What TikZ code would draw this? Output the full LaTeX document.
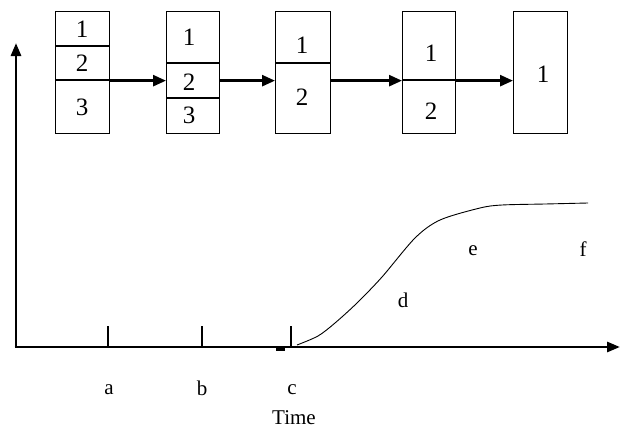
\documentclass[tikz,border=0pt]{standalone}
\usepackage{fontspec}
\setmainfont{Liberation Serif}
\usetikzlibrary{arrows.meta}
\begin{document}
\begin{tikzpicture}[x=1pt,y=-1pt,
  boxst/.style={draw,line width=1.3pt,rectangle,inner sep=0pt,anchor=north west},
  divst/.style={line width=1.3pt},
  digit/.style={font=\fontsize{25}{25}\selectfont,inner sep=0pt},
  lbl/.style={font=\fontsize{21}{21}\selectfont,inner sep=0pt},
  flow/.style={line width=2.6pt,-{Triangle[length=13pt,width=11pt]}},
  axis/.style={line width=2.8pt,-{Triangle[length=13pt,width=10pt]}},
  tick/.style={line width=1.2pt}]
\useasboundingbox (0,0) rectangle (621,431);
% boxes
\node[boxst,minimum width=54pt,minimum height=122pt] (b1) at (55,11) {};
\node[boxst,minimum width=53pt,minimum height=122pt] (b2) at (166,11) {};
\node[boxst,minimum width=55pt,minimum height=122pt] (b3) at (275,11) {};
\node[boxst,minimum width=53pt,minimum height=122pt] (b4) at (402,11) {};
\node[boxst,minimum width=54pt,minimum height=122pt] (b5) at (513,11) {};
% dividers
\draw[divst] (55,46) -- (109,46);
\draw[divst] (55,80) -- (109,80);
\draw[divst] (166,63) -- (219,63);
\draw[divst] (166,98) -- (219,98);
\draw[divst] (275,63) -- (330,63);
\draw[divst] (402,80) -- (455,80);
% digits
\node[digit] (d11) at (82,29) {1};
\node[digit] (d12) at (82,63) {2};
\node[digit] (d13) at (82,107) {3};
\node[digit] (d21) at (189,37) {1};
\node[digit] (d22) at (189,82) {2};
\node[digit] (d23) at (189,115) {3};
\node[digit] (d31) at (302,45) {1};
\node[digit] (d32) at (302,97) {2};
\node[digit] (d41) at (431,53) {1};
\node[digit] (d42) at (431,111) {2};
\node[digit] (d51) at (543,74) {1};
% arrows between boxes
\draw[flow] ([yshift=-8pt]b1.east) -- ([yshift=-8pt]b2.west);
\draw[flow] ([yshift=-8pt]b2.east) -- ([yshift=-8pt]b3.west);
\draw[flow] ([yshift=-8pt]b3.east) -- ([yshift=-8pt]b4.west);
\draw[flow] ([yshift=-8pt]b4.east) -- ([yshift=-8pt]b5.west);
% axes
\coordinate (o) at (16,347);
\coordinate (ytop) at (16,43);
\coordinate (xend) at (620,347);
\draw[axis] (o) -- (ytop);
\draw[axis] ([xshift=-1.4pt]o) -- (xend);
% ticks
\coordinate (ta) at (108,347);
\coordinate (tb) at (202,347);
\coordinate (tc) at (291,347);
\draw[tick] (ta) -- ++(0,-21);
\draw[tick] (tb) -- ++(0,-21);
\draw[tick] (tc) -- ++(0,-21);
\draw[line width=3pt] (276,349) -- (285,349);
% tick labels
\node[lbl] (la) at (109,390) {a};
\node[lbl] (lb) at (202,388) {b};
\node[lbl] (lc) at (292,390) {c};
\node[lbl] (time) at (294,418) {Time};
% curve
\draw[line width=0.9pt] plot[smooth,tension=0.5] coordinates {(297,345) (318,336) (335,323) (357,303) (382,277) (415,238) (440,220) (480,208) (502,205) (545,204) (588,203)};
\node[lbl] (ld) at (403,300) {d};
\node[lbl] (le) at (473,251) {e};
\node[lbl] (lf) at (583,249) {f};
\end{tikzpicture}
\end{document}
